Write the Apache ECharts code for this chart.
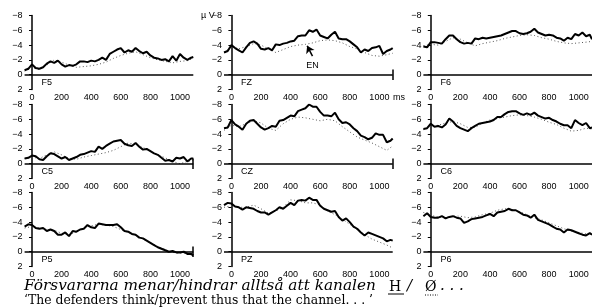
<!DOCTYPE html>
<html>
<head>
<meta charset="utf-8">
<script src="https://cdn.jsdelivr.net/npm/echarts@6/dist/echarts.min.js"></script>
<style>
  html, body { margin: 0; padding: 0; background: #fff; }
  #main { width: 592px; height: 307px; }
</style>
</head>
<body>
<div id="main"></div>
<script>
// time points (ms) of the two curves
var timesSolid = [-50, -25, 0, 25, 50, 75, 100, 125, 150, 175, 200, 225, 250, 275, 300, 325, 350, 375, 400, 425,
  450, 475, 500, 525, 550, 575, 600, 625, 650, 675, 700, 725, 750, 775, 800, 825, 850, 875, 900, 925,
  950, 975, 1000, 1025, 1050, 1075, 1090];
var timesDotted = [-50, 0, 50, 100, 150, 200, 250, 300, 350, 400, 450, 500, 550, 600, 650, 700, 750, 800, 850, 900,
  950, 1000, 1050, 1090];

var xTicks = [0, 200, 400, 600, 800, 1000];

var channels = ['F5', 'FZ', 'F6', 'C5', 'CZ', 'C6', 'P5', 'PZ', 'P6'];

// solid (thick) curves, µV
var solidF5 = [-0.6,-0.8,-1.4,-0.9,-0.8,-1.0,-1.5,-1.8,-1.6,-1.9, -1.4,-1.1,-1.3,-1.2,-1.4,-1.8,-1.8,-1.7,-1.9,-1.8,
  -2.0,-2.3,-2.0,-2.8,-3.1,-3.4,-3.6,-3.0,-3.3,-3.1, -3.6,-3.2,-2.9,-3.1,-2.6,-2.3,-2.2,-2.0,-2.1,-1.8, -2.5,-1.9,-2.8,-2.3,-2.0,-2.3,-2.4];
var solidFZ = [-3.0,-3.2,-4.0,-3.6,-3.3,-3.0,-3.7,-4.3,-4.5,-4.2, -3.5,-3.4,-3.6,-3.3,-4.1,-4.0,-4.2,-4.3,-4.5,-4.6,
  -5.2,-5.3,-5.3,-6.0,-5.8,-6.1,-5.3,-5.1,-4.9,-5.4, -5.8,-4.9,-4.8,-4.8,-4.5,-4.1,-3.7,-3.0,-3.4,-3.2, -3.6,-3.7,-3.9,-2.8,-3.2,-3.4,-3.6];
var solidF6 = [-3.8,-3.7,-4.4,-4.4,-4.3,-4.2,-4.8,-5.3,-5.3,-4.8, -4.4,-4.2,-4.3,-4.2,-4.9,-4.8,-5.0,-4.9,-5.0,-5.1,
  -5.2,-5.3,-5.5,-5.7,-5.9,-5.9,-5.6,-5.5,-5.6,-5.8, -6.2,-5.7,-5.5,-5.3,-5.4,-5.3,-5.0,-4.9,-4.6,-5.0, -4.8,-5.5,-5.3,-5.7,-5.2,-5.4,-4.8];
var solidC5 = [-0.7,-0.8,-1.1,-1.0,-0.6,-0.5,-1.0,-1.4,-1.3,-1.0, -0.7,-0.9,-0.5,-0.7,-0.9,-1.2,-1.3,-1.5,-1.7,-1.6,
  -2.3,-2.0,-2.4,-2.7,-3.0,-3.1,-3.2,-2.7,-2.5,-2.4, -2.8,-2.3,-1.9,-2.0,-1.7,-1.4,-1.2,-0.8,-0.4,-0.5, -0.3,-0.8,-0.7,-0.9,-0.3,-0.7,-0.7];
var solidCZ = [-4.8,-4.9,-5.9,-5.3,-5.0,-4.6,-5.4,-5.8,-5.9,-5.4, -4.9,-4.6,-4.8,-5.1,-5.0,-5.8,-5.9,-6.2,-6.5,-6.4,
  -7.1,-7.3,-7.5,-8.0,-7.7,-7.7,-7.0,-6.5,-6.5,-6.4, -6.9,-6.0,-5.5,-5.6,-5.3,-4.8,-4.4,-3.8,-3.6,-3.3, -3.5,-4.1,-3.9,-3.9,-2.9,-3.1,-3.4];
var solidC6 = [-4.7,-4.8,-5.4,-5.0,-5.1,-4.9,-5.3,-6.1,-5.7,-5.1, -4.8,-4.6,-4.4,-4.8,-5.1,-5.4,-5.5,-5.6,-5.7,-5.9,
  -6.3,-6.3,-6.7,-7.0,-7.1,-7.1,-6.8,-6.6,-6.8,-6.6, -6.9,-6.5,-6.3,-6.1,-6.2,-5.9,-5.7,-5.4,-5.2,-5.2, -4.8,-5.9,-5.5,-5.2,-5.5,-4.8,-4.9];
var solidP5 = [-3.4,-3.7,-3.6,-3.2,-3.1,-3.2,-2.8,-3.0,-2.8,-2.3, -2.3,-2.6,-2.1,-2.8,-2.7,-3.0,-3.1,-3.6,-3.3,-3.2,
  -3.8,-3.7,-3.6,-3.6,-3.6,-3.7,-3.3,-2.8,-2.7,-2.4, -2.3,-1.9,-1.8,-1.5,-1.2,-0.9,-0.6,-0.4,-0.2,0.0, -0.1,0.1,0.1,0.0,0.3,0.3,0.5];
var solidPZ = [-6.3,-6.6,-6.5,-6.1,-6.0,-5.7,-6.0,-5.9,-5.8,-5.5, -5.3,-5.3,-5.0,-5.3,-5.6,-6.0,-5.8,-6.2,-6.6,-6.3,
  -6.9,-7.0,-6.9,-7.3,-7.0,-7.0,-6.2,-5.8,-5.6,-5.4, -5.5,-4.7,-4.2,-4.5,-4.0,-3.4,-3.1,-2.6,-2.2,-2.6, -2.4,-2.2,-2.0,-1.8,-1.4,-1.6,-1.5];
var solidP6 = [-4.8,-5.2,-4.7,-4.6,-4.6,-4.8,-4.5,-4.7,-4.8,-4.6, -4.5,-3.9,-4.1,-4.4,-4.5,-4.6,-4.7,-4.9,-5.1,-4.8,
  -5.3,-5.4,-5.5,-5.8,-5.6,-5.6,-5.3,-5.0,-4.9,-4.6, -5.0,-4.3,-4.1,-3.9,-3.7,-3.4,-3.1,-3.0,-2.6,-3.0, -2.9,-2.7,-2.5,-2.3,-2.2,-2.5,-2.3];

// dotted (thin) curves, µV
var dottedF5 = [-0.5,-0.9,-0.7,-1.3,-2.0,-1.7,-1.3,-1.0,-1.1,-1.2,-1.4,-1.7,-2.2,-2.6,-2.9,-3.1,-2.7,-2.3,-2.0,-1.8,-1.6,-1.8,-1.9,-2.2];
var dottedFZ = [-3.0,-3.8,-3.5,-3.8,-4.2,-4.0,-3.5,-3.0,-3.4,-3.8,-4.0,-4.1,-4.3,-4.6,-4.7,-4.6,-4.3,-3.8,-3.5,-3.0,-2.6,-2.5,-2.7,-2.9];
var dottedF6 = [-3.9,-4.1,-4.0,-4.5,-5.0,-4.8,-4.3,-3.9,-4.2,-4.4,-4.6,-4.9,-5.1,-5.3,-5.4,-5.3,-5.0,-4.8,-4.5,-4.3,-4.2,-4.3,-4.4,-4.5];
var dottedC5 = [-0.7,-0.9,-0.7,-1.2,-1.6,-1.2,-0.7,-0.6,-0.9,-1.1,-1.3,-1.5,-1.8,-2.3,-2.8,-2.6,-2.2,-1.7,-1.2,-0.8,-0.3,0.0,-0.3,-0.5];
var dottedCZ = [-4.5,-5.2,-5.0,-5.4,-5.8,-5.5,-4.8,-4.5,-5.4,-6.0,-6.3,-6.2,-6.0,-5.8,-6.0,-5.8,-5.0,-4.3,-3.6,-3.2,-2.8,-2.3,-1.8,-2.4];
var dottedC6 = [-4.6,-5.0,-5.2,-5.5,-5.7,-5.4,-4.9,-4.9,-5.5,-5.9,-6.1,-6.3,-6.5,-6.6,-6.5,-6.3,-6.0,-5.6,-5.3,-4.8,-4.4,-4.5,-4.8,-4.7];
var dottedP5 = [-3.2,-3.4,-3.2,-3.0,-2.9,-2.5,-2.3,-2.7,-3.2,-3.5,-3.7,-3.6,-3.4,-3.0,-2.6,-2.2,-1.7,-1.2,-0.7,-0.3,0.1,0.2,0.2,0.6];
var dottedPZ = [-6.0,-6.2,-6.0,-6.0,-6.3,-5.8,-5.2,-5.5,-6.0,-7.0,-6.9,-6.6,-6.6,-6.3,-5.5,-5.0,-4.4,-3.7,-3.0,-2.3,-1.7,-1.3,-0.9,-0.5];
var dottedP6 = [-5.3,-4.9,-4.7,-4.6,-4.8,-4.8,-4.6,-4.7,-5.0,-5.2,-5.6,-5.8,-5.7,-5.4,-5.0,-4.6,-4.3,-3.9,-3.5,-3.1,-2.8,-2.6,-2.4,-2.5];

var solidAll = [solidF5, solidFZ, solidF6, solidC5, solidCZ, solidC6, solidP5, solidPZ, solidP6];
var dottedAll = [dottedF5, dottedFZ, dottedF6, dottedC5, dottedCZ, dottedC6, dottedP5, dottedPZ, dottedP6];
// panels with the small end bar on the zero line
var endBar = ['FZ', 'C5', 'CZ', 'P5'];

// layout
var colLeft = [24.6, 224, 423.4];
var rowTop = [15.5, 104.5, 192.5];
var gw = 168.7, gh = 74;
var font = '"Liberation Sans", Arial, sans-serif';

function pairs(t, v) {
  return t.map(function (x, i) { return [x, v[i]]; });
}

var grids = [], xAxes = [], yAxes = [], series = [];

channels.forEach(function (ch, i) {
  var r = Math.floor(i / 3), c = i % 3;
  grids.push({ left: colLeft[c], top: rowTop[r], width: gw, height: gh });
  xAxes.push({
    type: 'value', gridIndex: i, min: -50, max: 1090,
    axisLine: { show: false, onZero: false },
    axisTick: { show: false },
    splitLine: { show: false },
    axisLabel: {
      customValues: xTicks, fontSize: 9, color: '#000', fontFamily: font, margin: 4,
      formatter: function (v) { return String(v); }
    }
  });
  yAxes.push({
    type: 'value', gridIndex: i, min: -8, max: 2, interval: 2, inverse: true,
    axisLine: { show: true, onZero: true, lineStyle: { color: '#000', width: 1.5 } },
    axisTick: { show: true, length: 3, lineStyle: { color: '#000', width: 1 } },
    splitLine: { show: false },
    axisLabel: {
      fontSize: 9, color: '#000', fontFamily: font, margin: 2,
      formatter: function (v) { return String(v).replace('-', '\u2212'); }
    }
  });

  var mlData = [{ yAxis: 0 }];
  if (endBar.indexOf(ch) >= 0) mlData.push([{ coord: [1089, -0.7] }, { coord: [1089, 0.7] }]);

  series.push({
    type: 'line', xAxisIndex: i, yAxisIndex: i, z: 2,
    data: pairs(timesDotted, dottedAll[i]),
    showSymbol: false, symbol: 'none', silent: true,
    lineStyle: { color: '#555', width: 1, type: [1, 2.5] }
  });

  var s = {
    type: 'line', xAxisIndex: i, yAxisIndex: i, z: 3,
    data: pairs(timesSolid, solidAll[i]),
    showSymbol: false, symbol: 'none', silent: true,
    lineStyle: { color: '#000', width: 2 },
    markLine: {
      silent: true, symbol: 'none', animation: false,
      label: { show: false },
      lineStyle: { color: '#000', width: 1.5, type: 'solid' },
      data: mlData
    },
    markPoint: {
      silent: true, symbol: 'circle', symbolSize: 0, animation: false,
      label: { show: true, position: 'right', distance: 0, color: '#000', fontSize: 9, fontFamily: font, formatter: ch },
      data: [{ coord: [65, 1.0] }]
    }
  };
  if (ch === 'FZ') {
    s.markLine.data.push([
      { coord: [548, -2.5], symbol: 'none' },
      { coord: [512, -3.9], symbol: 'arrow', symbolSize: 7 }
    ]);
    s.markPoint.data.push({ coord: [548, -1.3], label: { position: 'inside', formatter: 'EN' } });
  }
  series.push(s);
});

var chart = echarts.init(document.getElementById('main'), null, { renderer: 'canvas' });
chart.setOption({
  animation: false,
  backgroundColor: '#fff',
  grid: grids,
  xAxis: xAxes,
  yAxis: yAxes,
  series: series,
  graphic: [
    { type: 'text', left: 201, top: 11, style: { text: '\u00b5 V', fontSize: 9, fontFamily: font, fill: '#000' } },
    { type: 'text', left: 393, top: 93, style: { text: 'ms', fontSize: 9, fontFamily: font, fill: '#000' } },
    { type: 'text', left: 24, top: 279, style: { text: 'F\u00f6rsvararna menar/hindrar alltså att kanalen', font: 'italic 15.3px "DejaVu Serif"', fill: '#000' } },
    { type: 'text', left: 389, top: 280, style: { text: 'H', font: '14px "DejaVu Serif"', fill: '#000' } },
    { type: 'line', shape: { x1: 388, y1: 294, x2: 404, y2: 294 }, style: { stroke: '#000', lineWidth: 1 } },
    { type: 'text', left: 407, top: 279, style: { text: '/', font: 'italic 15px "DejaVu Serif"', fill: '#000' } },
    { type: 'text', left: 425, top: 280, style: { text: '\u00d8', font: '14px "DejaVu Serif"', fill: '#000' } },
    { type: 'line', shape: { x1: 425, y1: 295, x2: 438, y2: 295 }, style: { stroke: '#000', lineWidth: 1, lineDash: [1, 1.5] } },
    { type: 'text', left: 440, top: 279, style: { text: '. . .', font: 'italic 15px "DejaVu Serif"', fill: '#000' } },
    { type: 'text', left: 24, top: 295, style: { text: '\u2018The defenders think/prevent thus that the channel. . . \u2019', font: '12.4px "DejaVu Serif"', fill: '#000' } }
  ]
});
</script>
</body>
</html>
